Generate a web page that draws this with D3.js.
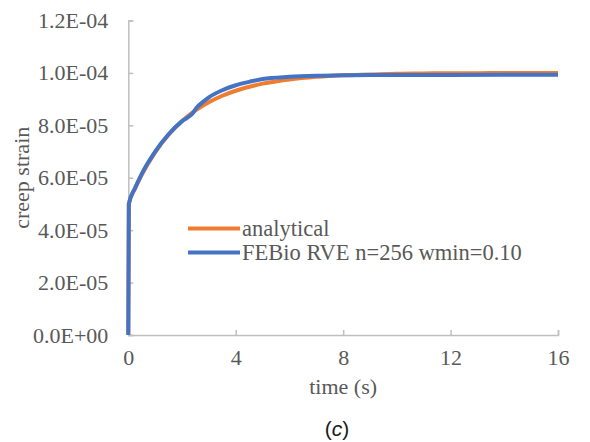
<!DOCTYPE html>
<html>
<head>
<meta charset="utf-8">
<script src="https://cdn.jsdelivr.net/npm/d3@7"></script>
<style>
  body { margin: 0; background: #fff; }
  svg { display: block; }
</style>
</head>
<body>
<div id="chart"></div>
<script>
// creep strain values below are in units of 1E-06
var timeAnalytical = [0, 0.02, 0.25, 0.5, 1, 1.5, 2, 2.5, 3, 3.5, 4, 5, 6, 7, 8, 9, 10, 11, 12, 13, 14, 15, 16];
var strainAnalytical = [0, 50.0, 55.9, 61.1, 69.7, 76.4, 81.6, 85.7, 88.8, 91.3, 93.2, 95.9, 97.5, 98.5, 99.1, 99.4, 99.7, 99.8, 99.9, 99.9, 100.0, 100.0, 100.0];

var timeFebio = [0, 0.02, 0.25, 0.5, 1, 1.5, 2, 2.4, 2.55, 2.75, 3, 3.5, 4, 4.5, 5, 6, 7, 8, 9, 10, 12, 14, 16];
var strainFebio = [0, 50.0, 56.0, 61.5, 70.0, 76.6, 81.6, 84.6, 86.8, 88.7, 90.7, 93.4, 95.3, 96.6, 97.7, 98.5, 98.9, 99.1, 99.2, 99.2, 99.2, 99.3, 99.3];

var xTicks = [0, 4, 8, 12, 16];
var yTicks = [0, 20, 40, 60, 80, 100, 120];
var yTickLabels = ["0.0E+00", "2.0E-05", "4.0E-05", "6.0E-05", "8.0E-05", "1.0E-04", "1.2E-04"];
var seriesNames = ["analytical", "FEBio RVE n=256 wmin=0.10"];

var width = 590, height = 442;
var margin = {top: 20.5, right: 32, bottom: 107, left: 128.3};
var w = width - margin.left - margin.right,
    h = height - margin.top - margin.bottom;

var serif = "'Liberation Serif', 'Times New Roman', serif";
var textColor = "#595959";
var axisColor = "#bfbfbf";

var svg = d3.select("#chart").append("svg")
  .attr("width", width)
  .attr("height", height);

var g = svg.append("g")
  .attr("transform", "translate(" + margin.left + "," + margin.top + ")");

var x = d3.scaleLinear().domain([0, 16]).range([0, w]);
var y = d3.scaleLinear().domain([0, 120]).range([h, 0]);

// x axis (ticks point inside)
var xAxis = g.append("g")
  .attr("transform", "translate(0," + h + ")")
  .call(d3.axisBottom(x).tickValues(xTicks).tickSize(-5).tickPadding(14).tickFormat(d3.format("d")));

// y axis (ticks point inside)
var yAxis = g.append("g")
  .call(d3.axisLeft(y).tickValues(yTicks).tickSize(-5).tickPadding(20)
    .tickFormat(function(d, i) { return yTickLabels[i]; }));

[xAxis, yAxis].forEach(function(ax) {
  ax.select(".domain").attr("stroke", axisColor).attr("stroke-width", 1.5);
  ax.selectAll(".tick line").attr("stroke", axisColor).attr("stroke-width", 1.5);
  ax.selectAll(".tick text")
    .attr("fill", textColor)
    .style("font-family", serif)
    .style("font-size", "22px");
});

// x axis title
g.append("text")
  .attr("x", w / 2)
  .attr("y", h + 59)
  .attr("text-anchor", "middle")
  .attr("fill", textColor)
  .style("font-family", serif)
  .style("font-size", "22px")
  .text("time (s)");

// y axis title
svg.append("text")
  .attr("transform", "translate(28.5," + (margin.top + h / 2) + ") rotate(-90)")
  .attr("text-anchor", "middle")
  .attr("fill", textColor)
  .style("font-family", serif)
  .style("font-size", "22px")
  .text("creep strain");

var line = d3.line()
  .curve(d3.curveMonotoneX)
  .x(function(d) { return x(d[0]); })
  .y(function(d) { return y(d[1]); });

var analyticalData = timeAnalytical.map(function(t, i) { return [t, strainAnalytical[i]]; });
var febioData = timeFebio.map(function(t, i) { return [t, strainFebio[i]]; });

var colors = ["#ED7D31", "#4472C4"];

g.append("path")
  .datum(analyticalData)
  .attr("fill", "none")
  .attr("stroke", colors[0])
  .attr("stroke-width", 4)
  .attr("stroke-linejoin", "round")
  .attr("d", line);

g.append("path")
  .datum(febioData)
  .attr("fill", "none")
  .attr("stroke", colors[1])
  .attr("stroke-width", 4)
  .attr("stroke-linejoin", "round")
  .attr("d", line);

// legend
var legend = svg.append("g").attr("transform", "translate(188,228.5)");
seriesNames.forEach(function(name, i) {
  var row = legend.append("g").attr("transform", "translate(0," + (i * 24) + ")");
  row.append("line")
    .attr("x1", 0).attr("x2", 52)
    .attr("y1", 0).attr("y2", 0)
    .attr("stroke", colors[i])
    .attr("stroke-width", 4);
  row.append("text")
    .attr("x", 54)
    .attr("y", 0)
    .attr("dy", "0.33em")
    .attr("fill", textColor)
    .style("font-family", serif)
    .style("font-size", "22.5px")
    .text(name);
});

// panel label
var cap = svg.append("text")
  .attr("x", 337)
  .attr("y", 436)
  .attr("text-anchor", "middle")
  .attr("fill", "#1a1a1a")
  .style("font-family", "'Liberation Sans', Arial, sans-serif")
  .style("font-size", "21px");
cap.append("tspan").text("(");
cap.append("tspan").style("font-style", "italic").text("c");
cap.append("tspan").text(")");
</script>
</body>
</html>
